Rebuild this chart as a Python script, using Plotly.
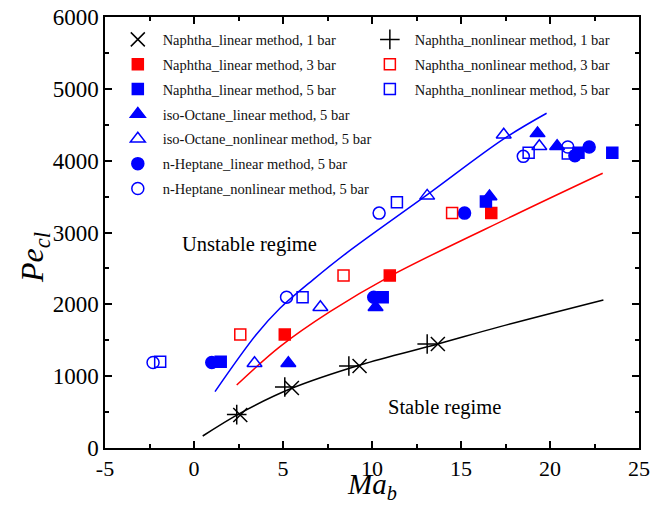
import plotly.graph_objects as go

# ---------------- data ----------------
nap_lin_1_x = [2.6, 5.5, 9.3, 13.7]
nap_lin_1_y = [460, 835, 1142, 1448]
nap_non_1_x = [2.4, 5.1, 8.7, 13.1]
nap_non_1_y = [465, 850, 1142, 1448]

nap_lin_3_x = [5.1, 11.0, 16.7]
nap_lin_3_y = [1580, 2400, 3270]
nap_non_3_x = [2.6, 8.4, 14.5]
nap_non_3_y = [1580, 2400, 3270]

nap_lin_5_x = [1.5, 10.6, 16.4, 21.6, 23.5]
nap_lin_5_y = [1200, 2100, 3430, 4110, 4110]
nap_non_5_x = [-1.9, 6.1, 11.4, 18.8, 21.0]
nap_non_5_y = [1200, 2100, 3420, 4110, 4100]

iso_lin_5_x = [5.3, 10.2, 16.6, 19.3, 20.4]
iso_lin_5_y = [1180, 1960, 3500, 4380, 4200]
iso_non_5_x = [3.4, 7.1, 13.1, 17.4, 19.4]
iso_non_5_y = [1180, 1960, 3510, 4360, 4200]

hep_lin_5_x = [1.0, 10.1, 15.2, 21.4, 22.2]
hep_lin_5_y = [1190, 2100, 3270, 4070, 4190]
hep_non_5_x = [-2.3, 5.2, 10.4, 18.5, 21.0]
hep_non_5_y = [1190, 2100, 3270, 4060, 4190]

# fitted curves
fit_1bar_x = [0.49, 2.58, 5.49, 9.33, 13.7, 17.2, 23.0]
fit_1bar_y = [167, 483, 831, 1156, 1448, 1690, 2061]
fit_3bar_x = [2.40, 4.83, 7.64, 11.0, 17.9, 22.96]
fit_3bar_y = [877, 1411, 1898, 2390, 3230, 3825]
fit_5bar_x = [1.18, 3.5, 4.83, 6.7, 8.6, 13.07, 17.38, 19.81]
fit_5bar_y = [785, 1580, 1945, 2345, 2720, 3520, 4300, 4660]

x_ticks = [-5, 0, 5, 10, 15, 20, 25]
y_ticks = [0, 1000, 2000, 3000, 4000, 5000, 6000]

FONT = "Liberation Serif"
BLUE = "#0000FF"
RED = "#FF0000"
BLACK = "#000000"
PAD = "\u2004"

fig = go.Figure()

# curves
for xs, ys, c in [(fit_1bar_x, fit_1bar_y, BLACK),
                  (fit_3bar_x, fit_3bar_y, RED),
                  (fit_5bar_x, fit_5bar_y, BLUE)]:
    fig.add_trace(go.Scatter(x=xs, y=ys, mode="lines", line=dict(color=c, width=1.5, shape="spline"),
                             showlegend=False, hoverinfo="skip"))

def mk(xs, ys, name, symbol, color, size, legend, group, open_=False, lw=1.5):
    if open_:
        marker = dict(symbol=symbol, size=size, color="rgba(0,0,0,0)",
                      line=dict(color=color, width=lw))
    else:
        marker = dict(symbol=symbol, size=size, color=color, line=dict(color=color, width=lw))
    fig.add_trace(go.Scatter(x=xs, y=ys, mode="markers", name=PAD + name, marker=marker,
                             legend=legend, legendgroup=group))

mk(nap_lin_1_x, nap_lin_1_y, "Naphtha_linear method, 1 bar", "x-thin", BLACK, 14, "legend", "a1")
mk(nap_lin_3_x, nap_lin_3_y, "Naphtha_linear method, 3 bar", "square", RED, 11, "legend", "a2")
mk(nap_lin_5_x, nap_lin_5_y, "Naphtha_linear method, 5 bar", "square", BLUE, 11, "legend", "a3")
mk(iso_lin_5_x, iso_lin_5_y, "iso-Octane_linear method, 5 bar", "triangle-up", BLUE, 13, "legend", "a4")
mk(iso_non_5_x, iso_non_5_y, "iso-Octane_nonlinear method, 5 bar", "triangle-up", BLUE, 13, "legend", "a5", open_=True)
mk(hep_lin_5_x, hep_lin_5_y, "n-Heptane_linear method, 5 bar", "circle", BLUE, 12, "legend", "a6")
mk(hep_non_5_x, hep_non_5_y, "n-Heptane_nonlinear method, 5 bar", "circle", BLUE, 12, "legend", "a7", open_=True)
mk(nap_non_1_x, nap_non_1_y, "Naphtha_nonlinear method, 1 bar", "cross-thin", BLACK, 14, "legend2", "b1")
mk(nap_non_3_x, nap_non_3_y, "Naphtha_nonlinear method, 3 bar", "square", RED, 11, "legend2", "b2", open_=True)
mk(nap_non_5_x, nap_non_5_y, "Naphtha_nonlinear method, 5 bar", "square", BLUE, 11, "legend2", "b3", open_=True)

fig.add_annotation(x=3.1, y=2830, text="Unstable regime", showarrow=False,
                   font=dict(family=FONT, size=20.5, color=BLACK))
fig.add_annotation(x=14.1, y=560, text="Stable regime", showarrow=False,
                   font=dict(family=FONT, size=20.5, color=BLACK))

# axis titles
fig.add_annotation(xref="paper", yref="paper", x=0.5, y=-0.089, xanchor="center", yanchor="middle",
                   text="<i>Ma</i><sub><i>b</i></sub>",
                   showarrow=False, font=dict(family=FONT, size=29, color=BLACK))
fig.add_annotation(xref="paper", yref="paper", x=-0.131, y=0.441, xanchor="center", yanchor="middle",
                   text="<i>Pe</i><sub><i>cl</i></sub>",
                   showarrow=False, textangle=-90, font=dict(family=FONT, size=32, color=BLACK))

axis_common = dict(showline=True, linecolor=BLACK, linewidth=1.5, mirror="ticks",
                   ticks="inside", ticklen=7, tickwidth=1.5, tickcolor=BLACK,
                   showgrid=False, zeroline=False, automargin=False, ticklabeloverflow="allow")

fig.update_xaxes(range=[-5, 25], tickvals=x_ticks, ticktext=[str(v) for v in x_ticks],
                 tickfont=dict(family=FONT, size=22, color=BLACK),
                 minor=dict(ticks="inside", dtick=2.5, tick0=-5, ticklen=4, tickwidth=1.5, tickcolor=BLACK),
                 **axis_common)
fig.update_yaxes(range=[0, 6000], tickvals=y_ticks, ticktext=[str(v) for v in y_ticks],
                 tickfont=dict(family=FONT, size=23, color=BLACK),
                 minor=dict(ticks="inside", dtick=500, tick0=0, ticklen=4, tickwidth=1.5, tickcolor=BLACK),
                 **axis_common)

legend_common = dict(font=dict(family=FONT, size=14.5, color="#111111"), bgcolor="rgba(0,0,0,0)",
                     traceorder="grouped", tracegroupgap=3, xanchor="left", yanchor="top",
                     itemclick=False)
fig.update_layout(
    width=650, height=507,
    margin=dict(l=105, r=11, t=17, b=59),
    paper_bgcolor="white", plot_bgcolor="white",
    legend=dict(x=0.024, y=0.985, **legend_common),
    legend2=dict(x=0.496, y=0.985, **legend_common),
)

fig.write_html("out.html")
